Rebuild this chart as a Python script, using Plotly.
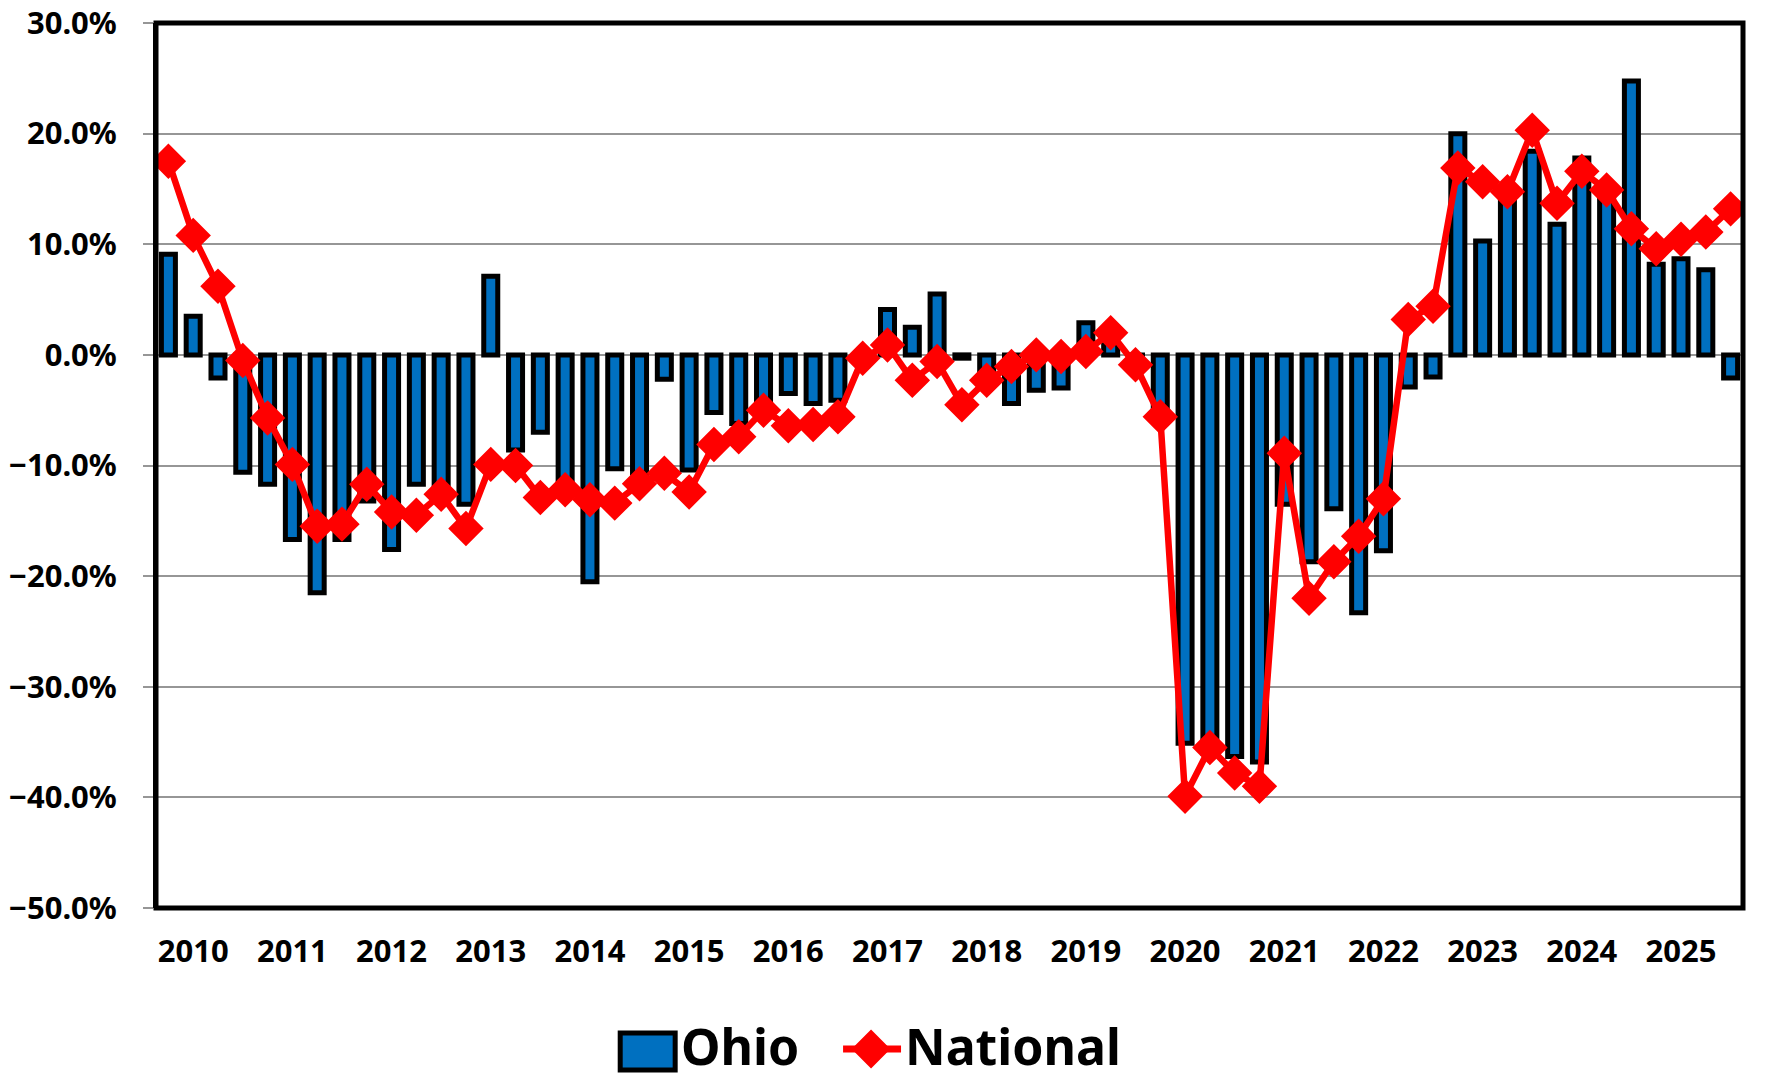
import plotly.graph_objects as go

# Quarterly categories: 2009 Q4 .. 2025 Q3
quarters = [f"{y} Q{q}" for y in range(2009, 2026) for q in range(1, 5)][3:67]

year_labels = ["2010", "2011", "2012", "2013", "2014", "2015", "2016", "2017",
               "2018", "2019", "2020", "2021", "2022", "2023", "2024", "2025"]
year_ticks = [f"{y} Q1" for y in year_labels]

ohio = [9.1, 3.5, -2.1, -10.6, -11.7, -16.7, -21.5, -16.7,
        -13.2, -17.6, -11.7, -12.0, -13.5, 7.1, -8.6, -7.0,
        -11.5, -20.5, -10.3, -10.7, -2.2, -10.4, -5.2, -6.2,
        -5.2, -3.5, -4.4, -4.1, -0.3, 4.1, 2.5, 5.5,
        -0.3, -2.0, -4.4, -3.2, -3.0, 2.9, 1.5, -0.5,
        -5.0, -35.1, -36.0, -36.3, -36.8, -13.5, -18.7, -13.9,
        -23.3, -17.7, -2.9, -2.0, 20.0, 10.3, 14.3, 18.4,
        11.8, 17.8, 15.3, 24.75, 8.2, 8.7, 7.7, -2.1]

national = [17.5, 10.8, 6.2, -0.5, -5.7, -9.9, -15.5, -15.3,
            -11.7, -14.2, -14.5, -12.6, -15.7, -9.9, -10.0, -12.9,
            -12.2, -13.1, -13.4, -11.65, -10.7, -12.4, -8.1, -7.4,
            -5.0, -6.4, -6.3, -5.6, -0.3, 0.9, -2.3, -0.6,
            -4.5, -2.3, -1.05, 0.0, -0.15, 0.3, 2.0, -0.9,
            -5.6, -39.9, -35.5, -37.8, -39.0, -8.9, -22.0, -18.7,
            -16.4, -13.0, 3.2, 4.4, 16.9, 15.65, 14.75, 20.3,
            13.7, 16.6, 14.9, 11.4, 9.6, 10.45, 11.1, 13.2]

year_boundary_ticks = [-0.5 + 8 * k for k in range(9)]

BLUE = "#0070C0"
RED = "#FF0000"
GRID = "#969696"
FONT = "Noto Sans"

fig = go.Figure()
fig.add_bar(
    x=quarters, y=ohio, name="Ohio", width=0.565,
    marker=dict(color=BLUE, line=dict(color="black", width=5)),
)
fig.add_scatter(
    x=quarters, y=national, name="National", mode="lines+markers",
    line=dict(color=RED, width=6.5),
    marker=dict(symbol="diamond", size=24, color=RED, line=dict(color=RED, width=3)),
)

# body margin is removed in the page (post_script), so the figure fills the window
W, H = 1767, 1081
ML, MT = 155.5, 23
PW, PH = 1743.5 - 155.5, 908 - 23
MR, MB = W - ML - PW, H - MT - PH


def px(x):  # window pixel -> paper x
    return (x - ML) / PW


def py(y):  # window pixel -> paper y
    return (MT + PH - y) / PH


fig.update_layout(
    width=W, height=H,
    margin=dict(l=ML, r=MR, t=MT, b=MB, pad=0, autoexpand=False),
    paper_bgcolor="white", plot_bgcolor="white",
    showlegend=False,
    xaxis=dict(
        type="category", categoryorder="array", categoryarray=quarters,
        range=[-0.5, 63.5], automargin=False,
        tickmode="array", tickvals=year_ticks, ticktext=year_labels,
        ticks="", showgrid=False, showline=False, zeroline=False,
        tickfont=dict(family=FONT, size=31, color="black", weight="bold"),
        ticklabelstandoff=22, ticklabeloverflow="allow",
    ),
    xaxis2=dict(
        overlaying="x", anchor="free", position=(908 - 355) / 885,
        range=[-0.5, 63.5], automargin=False,
        tickmode="array", tickvals=year_boundary_ticks,
        ticks="outside", ticklen=12, tickwidth=2, tickcolor=GRID,
        showticklabels=False, showgrid=False, zeroline=False, showline=False,
    ),
    yaxis=dict(
        range=[-50, 30], dtick=10, tick0=0, tickformat=".1f", ticksuffix="%",
        automargin=False,
        showgrid=True, gridcolor=GRID, gridwidth=2,
        zeroline=True, zerolinecolor=GRID, zerolinewidth=2,
        ticks="outside", ticklen=10, tickwidth=2, tickcolor=GRID,
        showline=True, linecolor="black", linewidth=3,
        tickfont=dict(family=FONT, size=31, color="black", weight="bold"),
        ticklabelstandoff=20, ticklabeloverflow="allow",
    ),
    shapes=[
        dict(type="rect", xref="paper", yref="paper", x0=0, y0=0, x1=1, y1=1,
             line=dict(color="black", width=5), layer="above"),
        # legend: Ohio swatch
        dict(type="rect", xref="paper", yref="paper",
             x0=px(620), x1=px(675), y0=py(1070), y1=py(1033),
             fillcolor=BLUE, line=dict(color="black", width=5)),
        # legend: National line + diamond
        dict(type="line", xref="paper", yref="paper",
             x0=px(843), x1=px(901), y0=py(1049), y1=py(1049),
             line=dict(color=RED, width=7)),
        dict(type="path", xref="paper", yref="paper",
             path=(f"M {px(871 - 18)} {py(1049)} L {px(871)} {py(1049 - 18)} "
                   f"L {px(871 + 18)} {py(1049)} L {px(871)} {py(1049 + 18)} Z"),
             fillcolor=RED, line=dict(color=RED, width=2)),
    ],
    annotations=[
        dict(text="Ohio", xref="paper", yref="paper", x=px(679), y=py(1046),
             xanchor="left", yanchor="middle", showarrow=False,
             font=dict(family=FONT, size=50, color="black", weight="bold")),
        dict(text="National", xref="paper", yref="paper", x=px(903), y=py(1046),
             xanchor="left", yanchor="middle", showarrow=False,
             font=dict(family=FONT, size=50, color="black", weight="bold")),
    ],
)

fig.write_html(
    "out.html",
    config={"displayModeBar": False},
    post_script="document.body.style.margin='0px';document.body.style.overflow='hidden';",
)
